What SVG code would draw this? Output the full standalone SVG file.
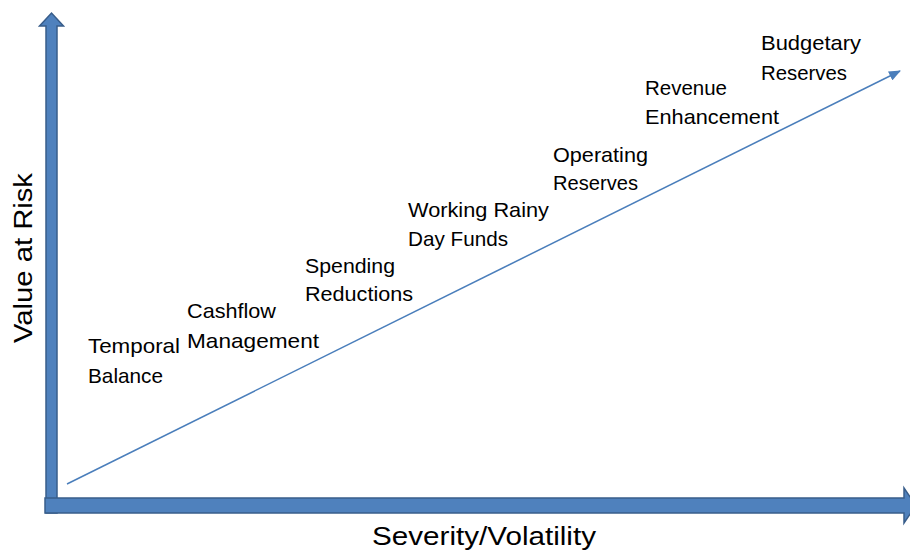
<svg xmlns="http://www.w3.org/2000/svg" width="910" height="552" viewBox="0 0 910 552">
  <style>
    .axis { fill: #4F81BD; stroke: #385D8A; stroke-width: 1.5; stroke-linejoin: miter; }
    .lbl { font-family: "Liberation Sans", Arial, sans-serif; font-size: 21px; fill: #000000; }
    .title { font-family: "Liberation Sans", Arial, sans-serif; font-size: 26px; fill: #000000; }
    .trend { stroke: #4A7EBB; stroke-width: 1.5; fill: none; }
  </style>
  <defs>
    <marker id="tip" markerWidth="12" markerHeight="10" refX="11" refY="5" orient="auto" markerUnits="userSpaceOnUse">
      <path d="M0,0 L12,5 L0,10 Z" fill="#4A7EBB"/>
    </marker>
  </defs>
  <rect width="910" height="552" fill="#ffffff"/>

  <!-- axes -->
  <g id="y-axis">
    <polygon class="axis" points="46,513 46,26 39.5,26 51.5,13 63.5,26 57,26 57,513"/>
  </g>
  <g id="x-axis">
    <polygon class="axis" points="45,498 904,498 904,488 916,505.5 904,523 904,513 45,513"/>
  </g>

  <!-- connectors -->
  <g id="connectors">
    <line class="trend" x1="67" y1="484" x2="900" y2="71" marker-end="url(#tip)"/>
  </g>

  <!-- axis titles -->
  <g id="y-title">
    <text class="title" transform="translate(32,258) rotate(-90)" text-anchor="middle" textLength="170" lengthAdjust="spacingAndGlyphs">Value at Risk</text>
  </g>
  <g id="x-title">
    <text class="title" x="372" y="545" textLength="224" lengthAdjust="spacingAndGlyphs">Severity/Volatility</text>
  </g>

  <!-- strategy labels -->
  <g id="temporal-balance">
    <text class="lbl" x="88" y="353" textLength="92" lengthAdjust="spacingAndGlyphs">Temporal</text>
    <text class="lbl" x="88" y="383" textLength="75" lengthAdjust="spacingAndGlyphs">Balance</text>
  </g>
  <g id="cashflow-management">
    <text class="lbl" x="187" y="318" textLength="89" lengthAdjust="spacingAndGlyphs">Cashflow</text>
    <text class="lbl" x="187" y="348" textLength="132" lengthAdjust="spacingAndGlyphs">Management</text>
  </g>
  <g id="spending-reductions">
    <text class="lbl" x="305" y="273" textLength="90" lengthAdjust="spacingAndGlyphs">Spending</text>
    <text class="lbl" x="305" y="301" textLength="108" lengthAdjust="spacingAndGlyphs">Reductions</text>
  </g>
  <g id="working-rainy-day-funds">
    <text class="lbl" x="408" y="217" textLength="141" lengthAdjust="spacingAndGlyphs">Working Rainy</text>
    <text class="lbl" x="408" y="246" textLength="100" lengthAdjust="spacingAndGlyphs">Day Funds</text>
  </g>
  <g id="operating-reserves">
    <text class="lbl" x="553" y="162" textLength="95" lengthAdjust="spacingAndGlyphs">Operating</text>
    <text class="lbl" x="553" y="190" textLength="85" lengthAdjust="spacingAndGlyphs">Reserves</text>
  </g>
  <g id="revenue-enhancement">
    <text class="lbl" x="645" y="95" textLength="82" lengthAdjust="spacingAndGlyphs">Revenue</text>
    <text class="lbl" x="645" y="124" textLength="134" lengthAdjust="spacingAndGlyphs">Enhancement</text>
  </g>
  <g id="budgetary-reserves">
    <text class="lbl" x="761" y="50" textLength="100" lengthAdjust="spacingAndGlyphs">Budgetary</text>
    <text class="lbl" x="761" y="80" textLength="86" lengthAdjust="spacingAndGlyphs">Reserves</text>
  </g>
</svg>
